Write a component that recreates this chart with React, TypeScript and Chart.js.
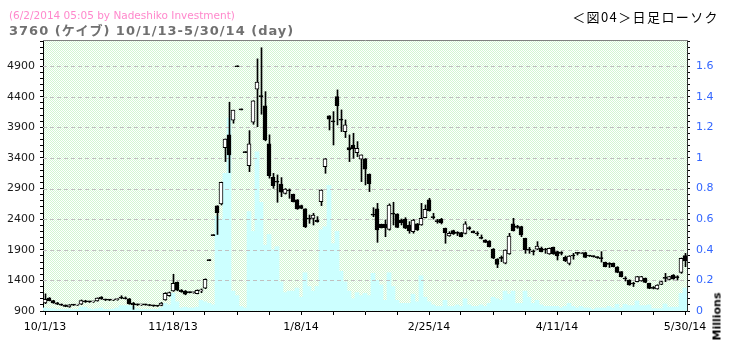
import React, { useEffect, useRef } from "react";
import { Chart, registerables } from "chart.js";

Chart.register(...registerables);

// ---- tick labels / axis values ----
const xTickLabels = ["10/1/13", "11/18/13", "1/8/14", "2/25/14", "4/11/14", "5/30/14"];
const xLabelStep = 32; // trading days between date labels
const xMinorStep = 8; // trading days between tick marks
const priceLabels = [900, 1400, 1900, 2400, 2900, 3400, 3900, 4400, 4900];
const volumeLabels = [0, 0.2, 0.4, 0.6, 0.8, 1, 1.2, 1.4, 1.6];

// ---- daily OHLC (yen) and volume (millions of shares), 10/1/13 - 5/30/14 ----
const openP = [
  1030, 1110, 1070, 1035, 1010, 995, 965, 1000, 995, 1010,
  1065, 1050, 1050, 1063, 1129, 1090, 1080, 1078, 1085, 1125,
  1115, 1100, 1030, 1005, 1000, 1005, 1000, 990, 985, 990,
  1080, 1150, 1227, 1368, 1240, 1227, 1205, 1200, 1184, 1230,
  1271, 1722, 2130, 2616, 2648, 3569, 3776, 4016, 4890, 4184,
  3487, 3274, 3983, 4522, 4420, 4250, 3629, 3084, 3020, 2975,
  2822, 2870, 2806, 2714, 2621, 2567, 2410, 2414, 2381, 2686,
  3258, 4086, 4000, 4402, 4025, 3830, 3569, 3612, 3487, 3378,
  3384, 3133, 2475, 2567, 2316, 2321, 2234, 2490, 2485, 2387,
  2403, 2305, 2196, 2322, 2305, 2425, 2714, 2430, 2365, 2398,
  2251, 2126, 2213, 2170, 2180, 2169, 2248, 2207, 2160, 2090,
  2060, 2044, 1913, 1750, 1765, 1680, 1831, 2322, 2289, 2278,
  2087, 1900, 1872, 1908, 1924, 1900, 1831, 1940, 1870, 1845,
  1777, 1679, 1800, 1842, 1842, 1853, 1800, 1790, 1775, 1760,
  1695, 1665, 1679, 1619, 1542, 1425, 1406, 1345, 1379, 1390,
  1434, 1352, 1272, 1259, 1335, 1436, 1417, 1488, 1446, 1532,
  1804,
];
const highP = [
  1180, 1120, 1075, 1040, 1015, 1000, 1005, 1005, 1005, 1080,
  1075, 1060, 1060, 1115, 1135, 1095, 1090, 1090, 1100, 1150,
  1130, 1105, 1040, 1015, 1010, 1010, 1005, 995, 990, 1040,
  1200, 1210, 1500, 1375, 1250, 1235, 1210, 1210, 1245, 1260,
  1425, 1722, 2130, 2620, 3005, 3710, 4310, 4180, 4890, 4184,
  3487, 3846, 4335, 5018, 5200, 4483, 3777, 3149, 3122, 3079,
  2900, 2893, 2810, 2720, 2630, 2570, 2468, 2496, 2441, 2880,
  3390, 4090, 4157, 4511, 4184, 4021, 3776, 3803, 3667, 3449,
  3390, 3140, 2588, 2659, 2320, 2387, 2650, 2676, 2490, 2403,
  2425, 2360, 2398, 2330, 2659, 2632, 2741, 2496, 2398, 2414,
  2255, 2196, 2220, 2196, 2185, 2360, 2278, 2210, 2196, 2142,
  2065, 2050, 1920, 1755, 1800, 1900, 2169, 2414, 2300, 2285,
  2090, 1940, 1897, 2033, 1945, 1924, 1930, 1945, 1875, 1870,
  1799, 1805, 1842, 1853, 1850, 1860, 1810, 1800, 1785, 1870,
  1700, 1690, 1685, 1625, 1545, 1460, 1410, 1368, 1465, 1465,
  1440, 1355, 1300, 1330, 1385, 1515, 1465, 1495, 1477, 1765,
  1842,
];
const lowP = [
  1020, 1065, 1025, 1005, 990, 970, 960, 990, 990, 1005,
  1040, 1040, 1040, 1060, 1090, 1070, 1070, 1070, 1075, 1100,
  1095, 1010, 927, 990, 990, 995, 985, 975, 975, 985,
  1075, 1140, 1220, 1230, 1205, 1165, 1195, 1190, 1180, 1200,
  1265, 1722, 2130, 2150, 2632, 3340, 3160, 3967, 4890, 4184,
  3487, 3176, 3950, 3911, 4114, 3680, 3070, 2904, 2676, 2768,
  2810, 2741, 2680, 2560, 2570, 2261, 2332, 2305, 2350, 2621,
  3149, 3857, 3612, 3939, 3830, 3732, 3340, 3394, 3422, 3013,
  2959, 2850, 2441, 2022, 2255, 2114, 2220, 2305, 2260, 2305,
  2245, 2170, 2170, 2215, 2300, 2420, 2530, 2400, 2333, 2322,
  2006, 2120, 2150, 2131, 2110, 2158, 2224, 2175, 2131, 2077,
  2018, 1945, 1755, 1608, 1706, 1670, 1825, 2205, 2250, 2115,
  1842, 1842, 1815, 1900, 1865, 1842, 1825, 1825, 1733, 1815,
  1706, 1652, 1745, 1815, 1835, 1770, 1790, 1780, 1760, 1700,
  1620, 1610, 1620, 1525, 1455, 1390, 1320, 1300, 1375, 1385,
  1362, 1265, 1260, 1255, 1330, 1379, 1410, 1418, 1406, 1515,
  1624,
];
const closeP = [
  1090, 1070, 1030, 1010, 995, 975, 1000, 995, 1000, 1070,
  1050, 1050, 1055, 1112, 1096, 1080, 1078, 1085, 1095, 1110,
  1100, 1015, 1005, 1000, 1005, 1000, 990, 985, 980, 1030,
  1190, 1200, 1352, 1242, 1215, 1173, 1200, 1205, 1238, 1245,
  1418, 1722, 2130, 2506, 3003, 3706, 3449, 4180, 4890, 4184,
  3487, 3629, 4331, 4637, 4400, 3694, 3111, 2948, 3005, 2839,
  2893, 2860, 2686, 2567, 2577, 2278, 2400, 2468, 2360, 2877,
  3384, 4032, 3990, 4255, 4018, 3939, 3531, 3547, 3558, 3449,
  3215, 2980, 2465, 2223, 2262, 2262, 2632, 2480, 2267, 2343,
  2251, 2207, 2387, 2224, 2414, 2561, 2539, 2425, 2360, 2343,
  2180, 2169, 2158, 2168, 2115, 2322, 2245, 2180, 2158, 2087,
  2022, 1951, 1761, 1662, 1760, 1897, 2125, 2213, 2267, 2142,
  1897, 1895, 1868, 1962, 1870, 1897, 1924, 1831, 1799, 1842,
  1722, 1799, 1798, 1842, 1843, 1777, 1799, 1788, 1772, 1755,
  1624, 1662, 1624, 1532, 1461, 1423, 1325, 1341, 1461, 1461,
  1368, 1270, 1270, 1325, 1379, 1434, 1461, 1423, 1444, 1760,
  1717,
];
const volumeM = [
  0.02, 0.015, 0.015, 0.01, 0.01, 0.01, 0.012, 0.01, 0.01, 0.025,
  0.025, 0.015, 0.01, 0.015, 0.02, 0.01, 0.01, 0.012, 0.02, 0.035,
  0.035, 0.035, 0.03, 0.015, 0.01, 0.01, 0.01, 0.01, 0.01, 0.02,
  0.05, 0.04, 0.115, 0.06, 0.02, 0.025, 0.02, 0.02, 0.025, 0.07,
  0.06, 0.05, 0.04, 0.62, 0.6, 0.9, 1.26, 0.13, 0.1, 0.03,
  0.02, 0.65, 0.52, 1.04, 0.71, 0.43, 0.5, 0.4, 0.42, 0.19,
  0.12, 0.13, 0.13, 0.15, 0.09, 0.25, 0.16, 0.13, 0.16, 0.53,
  0.55, 0.82, 0.44, 0.52, 0.26, 0.19, 0.13, 0.08, 0.12, 0.1,
  0.115, 0.1, 0.246, 0.2, 0.17, 0.07, 0.25, 0.16, 0.07, 0.05,
  0.05, 0.05, 0.11, 0.06, 0.23, 0.09, 0.06, 0.04, 0.03, 0.03,
  0.07, 0.03, 0.03, 0.04, 0.03, 0.08, 0.04, 0.03, 0.03, 0.04,
  0.03, 0.05, 0.09, 0.08, 0.07, 0.13, 0.11, 0.13, 0.05, 0.05,
  0.13, 0.09, 0.05, 0.07, 0.04, 0.03, 0.03, 0.03, 0.03, 0.02,
  0.03, 0.05, 0.03, 0.02, 0.03, 0.02, 0.02, 0.01, 0.02, 0.02,
  0.02, 0.03, 0.02, 0.044, 0.02, 0.044, 0.035, 0.035, 0.066, 0.035,
  0.035, 0.04, 0.015, 0.015, 0.015, 0.046, 0.025, 0.025, 0.025, 0.115,
  0.15,
];

const FONT = "'DejaVu Sans', Verdana, sans-serif";
const PRICE_MIN = 900;
const PRICE_MAX = 5310;
const VOL_MAX = (PRICE_MAX - PRICE_MIN) / 2500;

export default function App() {
  const canvasRef = useRef<HTMLCanvasElement>(null);

  useEffect(() => {
    document.body.style.margin = "0";
    const canvas = canvasRef.current;
    if (!canvas) return;

    // dotted light-green plot background
    const pc = document.createElement("canvas");
    pc.width = 2;
    pc.height = 2;
    const pctx = pc.getContext("2d")!;
    pctx.fillStyle = "#ffffff";
    pctx.fillRect(0, 0, 2, 2);
    pctx.fillStyle = "#d2f6d2";
    pctx.fillRect(0, 0, 1, 1);
    pctx.fillRect(1, 1, 1, 1);
    const pattern = canvas.getContext("2d")!.createPattern(pc, "repeat");

    const bgPlugin = {
      id: "plotBg",
      beforeDraw(chart: any) {
        const { ctx, chartArea } = chart;
        ctx.save();
        ctx.fillStyle = pattern as any;
        ctx.fillRect(chartArea.left, chartArea.top, chartArea.right - chartArea.left, chartArea.bottom - chartArea.top);
        ctx.restore();
      },
    };

    const gridPlugin = {
      id: "gridOverVolume",
      afterDatasetDraw(chart: any, args: any) {
        if (args.index !== 0) return;
        const { ctx, chartArea, scales } = chart;
        ctx.save();
        ctx.strokeStyle = "#c0c0c0";
        ctx.lineWidth = 1;
        ctx.setLineDash([4, 3]);
        for (const v of priceLabels) {
          if (v === PRICE_MIN) continue;
          const y = Math.round(scales.y.getPixelForValue(v)) + 0.5;
          ctx.beginPath();
          ctx.moveTo(chartArea.left, y);
          ctx.lineTo(chartArea.right, y);
          ctx.stroke();
        }
        ctx.restore();
      },
    };

    const topBorderPlugin = {
      id: "topBorder",
      afterDraw(chart: any) {
        const { ctx, chartArea } = chart;
        ctx.save();
        ctx.strokeStyle = "#808080";
        ctx.lineWidth = 1;
        const y = Math.round(chartArea.top) - 0.5;
        ctx.beginPath();
        ctx.moveTo(chartArea.left, y);
        ctx.lineTo(chartArea.right + 1, y);
        ctx.stroke();
        ctx.restore();
      },
    };

    const n = openP.length;
    const xMin = -0.5;
    const xMax = n - 0.5;

    const chart = new Chart(canvas, {
      type: "bar",
      data: {
        datasets: [
          {
            label: "Volume",
            xAxisID: "x",
            yAxisID: "y1",
            data: volumeM.map((v, i) => ({ x: i, y: v })),
            backgroundColor: "#ccffff",
            borderWidth: 0,
            barThickness: 4,
            grouped: false,
            order: 3,
          } as any,
          {
            label: "Range",
            xAxisID: "xw",
            yAxisID: "y",
            data: lowP.map((l, i) => ({ x: i, y: [l, highP[i]] })),
            backgroundColor: "#000000",
            borderWidth: 0,
            barThickness: 1,
            minBarLength: 1,
            grouped: false,
            order: 2,
          } as any,
          {
            label: "Body",
            xAxisID: "x",
            yAxisID: "y",
            data: openP.map((o, i) => ({ x: i, y: [o, closeP[i]] })),
            backgroundColor: (ctx: any) =>
              closeP[ctx.dataIndex] > openP[ctx.dataIndex] ? "#ffffff" : "#000000",
            borderColor: "#000000",
            borderWidth: 1,
            borderSkipped: false,
            barThickness: 4,
            minBarLength: 1,
            grouped: false,
            order: 1,
          } as any,
        ],
      },
      options: {
        animation: false,
        responsive: false,
        devicePixelRatio: 1,
        events: [],
        layout: { padding: { top: 41, left: 0, right: 0, bottom: 0 } },
        plugins: { legend: { display: false }, tooltip: { enabled: false } },
        scales: {
          x: {
            type: "linear",
            position: "bottom",
            offset: false,
            min: xMin,
            max: xMax,
            afterBuildTicks: (scale: any) => {
              const t = [];
              for (let v = 0; v < n; v += xMinorStep) t.push({ value: v });
              scale.ticks = t;
            },
            afterFit: (scale: any) => {
              scale.height = 38;
            },
            ticks: {
              autoSkip: false,
              maxRotation: 0,
              minRotation: 0,
              padding: 6,
              color: "#000000",
              font: { family: FONT, size: 11 },
              callback: (value: any) => {
                const v = Math.round(Number(value));
                return v % xLabelStep === 0 ? xTickLabels[v / xLabelStep] ?? "" : "";
              },
            },
            grid: {
              display: true,
              offset: false,
              drawOnChartArea: false,
              drawTicks: true,
              tickLength: 4,
              tickColor: "#000000",
            },
            border: { display: true, color: "#000000", width: 1 },
          },
          xw: {
            type: "linear",
            display: false,
            offset: false,
            grid: { offset: false },
            min: xMin - 0.125,
            max: xMax - 0.125,
          },
          y: {
            type: "linear",
            position: "left",
            min: PRICE_MIN,
            max: PRICE_MAX,
            afterBuildTicks: (scale: any) => {
              const t = [];
              for (let v = PRICE_MIN; v <= PRICE_MAX; v += 100) t.push({ value: v });
              scale.ticks = t;
            },
            afterFit: (scale: any) => {
              scale.width = 43;
            },
            ticks: {
              autoSkip: false,
              padding: 5,
              color: "#1a1a1a",
              font: { family: FONT, size: 11 },
              callback: (value: any) => {
                const v = Math.round(Number(value));
                return priceLabels.includes(v) ? String(v) : "";
              },
            },
            grid: {
              display: true,
              drawOnChartArea: false,
              drawTicks: true,
              tickLength: 3,
              tickColor: "#000000",
            },
            border: { display: true, color: "#000000", width: 1 },
          },
          y1: {
            type: "linear",
            position: "right",
            min: 0,
            max: VOL_MAX,
            afterBuildTicks: (scale: any) => {
              const t = [];
              for (let k = 0; k * 0.04 <= VOL_MAX + 1e-9; k++) t.push({ value: k * 0.04 });
              scale.ticks = t;
            },
            afterFit: (scale: any) => {
              scale.width = 42;
            },
            ticks: {
              autoSkip: false,
              padding: 6,
              color: "#3366ff",
              font: { family: FONT, size: 11 },
              callback: (value: any) => {
                const v = Number(Number(value).toFixed(2));
                return volumeLabels.some((l) => Math.abs(l - v) < 1e-6) ? String(Number(v.toFixed(1))) : "";
              },
            },
            grid: {
              display: true,
              drawOnChartArea: false,
              drawTicks: true,
              tickLength: 3,
              tickColor: "#000000",
            },
            border: { display: true, color: "#333333", width: 1 },
          },
        },
      } as any,
      plugins: [bgPlugin, gridPlugin, topBorderPlugin],
    });

    return () => chart.destroy();
  }, []);

  return (
    <div
      style={{
        position: "absolute",
        left: 0,
        top: 0,
        width: 729,
        height: 349,
        background: "#ffffff",
        overflow: "hidden",
      }}
    >
      <canvas
        ref={canvasRef}
        width={729}
        height={349}
        style={{ position: "absolute", left: 0, top: 0, width: 729, height: 349 }}
      />
      <div
        style={{
          position: "absolute",
          left: 9,
          top: 10,
          fontFamily: FONT,
          fontSize: 10.5,
          lineHeight: "11px",
          color: "#ff88cc",
          whiteSpace: "nowrap",
        }}
      >
        (6/2/2014 05:05 by Nadeshiko Investment)
      </div>
      <div
        style={{
          position: "absolute",
          left: 9,
          top: 24,
          fontFamily: "'DejaVu Sans', 'Noto Sans CJK JP', sans-serif",
          fontWeight: "bold",
          fontSize: 13,
          letterSpacing: 1,
          lineHeight: "13px",
          color: "#707070",
          whiteSpace: "nowrap",
        }}
      >
        3760 (ケイブ) 10/1/13-5/30/14 (day)
      </div>
      <div
        style={{
          position: "absolute",
          right: 10,
          top: 10,
          fontFamily: "'Noto Sans CJK JP', sans-serif",
          fontSize: 13,
          letterSpacing: 1.4,
          lineHeight: "13px",
          color: "#000000",
          whiteSpace: "nowrap",
        }}
      >
        ＜図04＞日足ローソク
      </div>
      <div
        style={{
          position: "absolute",
          left: 691.5,
          top: 309.5,
          width: 50,
          height: 13,
          lineHeight: "13px",
          textAlign: "center",
          fontFamily: FONT,
          fontWeight: "bold",
          fontSize: 11,
          color: "#000000",
          transform: "rotate(-90deg)",
          transformOrigin: "center",
          whiteSpace: "nowrap",
        }}
      >
        Millions
      </div>
    </div>
  );
}
